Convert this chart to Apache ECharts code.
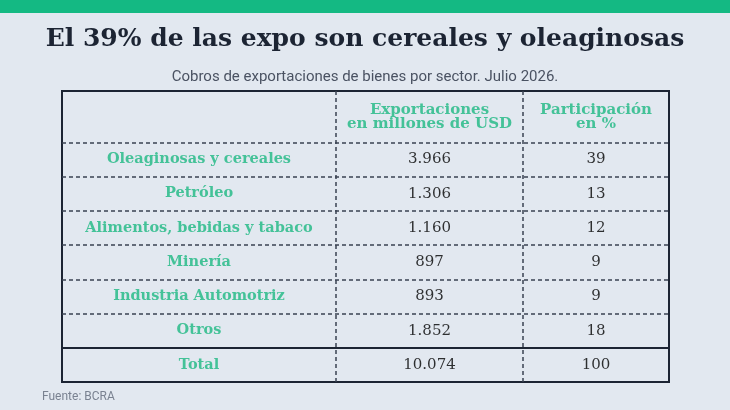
<!DOCTYPE html>
<html>
<head>
<meta charset="utf-8">
<script src="https://cdn.jsdelivr.net/npm/echarts@6/dist/echarts.min.js"></script>
<style>
html,body{margin:0;padding:0;background:#e2e8f0;}
#c{width:730px;height:410px;}
</style>
</head>
<body>
<div id="c"></div>
<script>
// ---- data ----
var sectors = ['Oleaginosas y cereales', 'Petróleo', 'Alimentos, bebidas y tabaco', 'Minería', 'Industria Automotriz', 'Otros'];
var exportsUSD = [3966, 1306, 1160, 897, 893, 1852];
var sharePct = [39, 13, 12, 9, 9, 18];
var totalLabel = 'Total';
var totalExports = 10074;
var totalShare = 100;
var headers = ['', 'Exportaciones\nen millones de USD', 'Participación\nen %'];

// ---- layout constants ----
var GREEN = '#1db882';
var DARK = '#1c2433';
var LINE = '#3a4252';
var colEdges = [0, 274, 461, 607];          // x units inside the table grid
var colCenter = [137, 367.5, 534];

function fmt(n) { return String(n).replace(/\B(?=(\d{3})+(?!\d))/g, '.'); }

var labels = sectors.concat([totalLabel]);
var col1 = labels.map(function (s, i) { return [colCenter[0], i + 0.5, s]; });
var col2 = exportsUSD.concat([totalExports]).map(function (v, i) { return [colCenter[1], i + 0.5, fmt(v)]; });
var col3 = sharePct.concat([totalShare]).map(function (v, i) { return [colCenter[2], i + 0.5, fmt(v)]; });
var head = [[colCenter[1], -0.75, headers[1]], [colCenter[2], -0.75, headers[2]]];

var serif = 'DejaVu Serif';
function textSeries(data, color, weight, size, extra) {
  var s = {
    type: 'scatter', data: data, symbolSize: 1, silent: true,
    itemStyle: { color: 'rgba(0,0,0,0)' },
    label: {
      show: true, position: 'inside',
      formatter: function (p) { return p.data[2]; },
      color: color, fontFamily: serif, fontWeight: weight, fontSize: size, lineHeight: 14,
      textBorderWidth: 0
    }
  };
  if (extra) for (var k in extra) s[k] = extra[k];
  return s;
}

var hLines = [];
for (var i = 0; i < labels.length; i++) {
  hLines.push({ yAxis: i, lineStyle: i === labels.length - 1 ? { type: 'solid', width: 2, color: DARK } : { type: [4, 3], width: 1.5, color: LINE } });
}
var vLines = [{ xAxis: colEdges[1] }, { xAxis: colEdges[2] }];

var option = {
  backgroundColor: '#e2e8f0',
  animation: false,
  title: [
    { text: 'El 39% de las expo son cereales y oleaginosas', left: 'center', top: 22,
      textStyle: { fontFamily: serif, fontWeight: 'bold', fontSize: 25, color: DARK } },
    { text: 'Cobros de exportaciones de bienes por sector. Julio 2026.', left: 'center', top: 65,
      textStyle: { fontFamily: 'Roboto', fontWeight: 'normal', fontSize: 15, color: '#4a5262' } },
    { text: 'Fuente: BCRA', left: 37, top: 386,
      textStyle: { fontFamily: 'Roboto', fontWeight: 'normal', fontSize: 12, color: '#7a8291' } }
  ],
  graphic: [
    { type: 'rect', shape: { x: 0, y: 0, width: 730, height: 13 }, style: { fill: '#14b983' } }
  ],
  grid: { left: 62, top: 91, width: 607, height: 291, show: true, borderColor: DARK, borderWidth: 2, backgroundColor: 'transparent' },
  xAxis: { type: 'value', min: 0, max: 607, show: false },
  yAxis: { type: 'value', min: -1.5, max: 7, inverse: true, show: false },
  series: [
    textSeries(col1, GREEN, 'bold', 14.5, {
      markLine: { silent: true, symbol: 'none', label: { show: false },
        lineStyle: { type: [4, 3], width: 1.5, color: LINE },
        data: hLines.concat(vLines) }
    }),
    textSeries(col2, '#000000', 'normal', 15),
    textSeries(col3, '#000000', 'normal', 15),
    textSeries(head, GREEN, 'bold', 15)
  ]
};

var chart = echarts.init(document.getElementById('c'));
chart.setOption(option);
</script>
</body>
</html>
